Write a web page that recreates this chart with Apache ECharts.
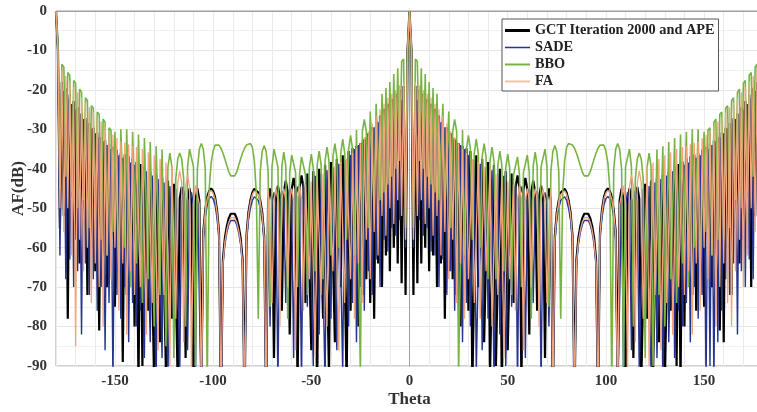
<!DOCTYPE html>
<html><head><meta charset="utf-8">
<script src="https://cdn.jsdelivr.net/npm/echarts@6/dist/echarts.min.js"></script>
<style>html,body{margin:0;padding:0;background:#fff}#c{width:757px;height:412px}</style>
</head><body><div id="c"></div>
<script>
// Theta grid: 1 degree steps. Left arrays run theta -180..0, right arrays run theta 180..0
const thetaStart = -180, thetaEnd = 180;
const xTickLabels = [-150, -100, -50, 0, 50, 100, 150];
const seriesNames = ['GCT Iteration 2000 and APE', 'SADE', 'BBO', 'FA'];

// AF (dB)
const gctLeft = [
0,-10,-55,-18,-52,-19.6,-78,-21.2,-48,-22.8,
-58,-24.4,-64,-26,-55,-27.2,-72,-28.4,-60,-29.6,
-66,-30.8,-81,-32,-62,-32.8,-70,-33.6,-58,-34.4,
-75,-35.2,-66,-36,-89,-36.4,-72,-36.8,-64,-37.4,
-80,-38.2,-95,-38.8,-90,-39.4,-39.6,-76,-40.8,-41,
-95,-41.6,-41.8,-84,-42.2,-42.4,-92,-43,-43.2,-78,
-43.8,-44,-95,-47.6,-44.6,-47.6,-88,-48,-45,-48,
-95,-48,-45,-48,-95,-56,-50.5,-47.2,-45.6,-45,
-45.6,-47.2,-50.5,-56,-100,-63,-57.5,-54.5,-52.5,-51.4,
-51,-51.4,-52.5,-54.5,-57.5,-63,-100,-57,-51,-48,
-46,-45.1,-45.1,-46,-48,-51,-57,-100,-48,-45,
-48,-88,-47.3,-44.3,-47.3,-76,-46,-43,-46,-82,
-45.3,-42.3,-45.3,-95,-44.7,-41.7,-44.7,-74,-41.2,-41,
-86,-40.6,-40.4,-95,-40,-39.8,-78,-39,-38.6,-92,
-38.3,-38,-84,-37.5,-37.2,-70,-36.6,-36.2,-95,-35.5,
-76,-34.8,-66,-34.2,-80,-33.5,-72,-32.5,-68,-31,
-74,-29.5,-78,-28,-64,-26.5,-70,-24.8,-62,-23.5,
-66,-22.3,-60,-21,-64,-20,-69,-19,-72,-10,
0];
const gctRight = [
0,-10,-55,-18,-52,-19.6,-70,-21.2,-48,-22.8,
-58,-24.4,-64,-26,-55,-27.2,-72,-28.4,-60,-29.6,
-84,-30.8,-81,-32,-62,-32.8,-70,-33.6,-58,-34.4,
-75,-35.2,-66,-36,-76,-36.4,-72,-36.8,-64,-37.4,
-80,-38.2,-95,-38.8,-90,-39.4,-39.6,-76,-40.8,-41,
-95,-41.6,-41.8,-84,-42.2,-42.4,-92,-43,-43.2,-78,
-43.8,-44,-95,-47.6,-44.6,-47.6,-88,-48,-45,-48,
-95,-48,-45,-48,-95,-56,-50.5,-47.2,-45.6,-45,
-45.6,-47.2,-50.5,-56,-100,-63,-57.5,-54.5,-52.5,-51.4,
-51,-51.4,-52.5,-54.5,-57.5,-63,-100,-57,-51,-48,
-46,-45.1,-45.1,-46,-48,-51,-57,-100,-48,-45,
-48,-88,-47.3,-44.3,-47.3,-76,-46,-43,-46,-82,
-45.3,-42.3,-45.3,-95,-44.7,-41.7,-44.7,-74,-41.2,-41,
-86,-40.6,-40.4,-95,-40,-39.8,-90,-39,-38.6,-92,
-38.3,-38,-84,-37.5,-37.2,-70,-36.6,-36.2,-95,-35.5,
-76,-34.8,-66,-34.2,-80,-33.5,-72,-32.5,-68,-31,
-66,-29.5,-78,-28,-64,-26.5,-70,-24.8,-62,-23.5,
-66,-22.3,-60,-21,-64,-20,-69,-19,-72,-10,
0];

const sadeLeft = [
0,-10,-62,-20,-20.7,-68,-22.1,-63,-23.6,-70,
-25,-66,-26.2,-82,-27.4,-64,-28.6,-72,-29.8,-68,
-31,-76,-32,-70,-33,-86,-34,-74,-35,-95,
-36,-72,-36.6,-78,-37.2,-70,-37.8,-84,-38.4,-74,
-39,-80,-39.6,-76,-40.2,-88,-40.6,-40.9,-84,-41.7,
-42,-95,-42.6,-42.9,-88,-43.5,-43.8,-95,-44.4,-44.7,
-80,-45.1,-45.2,-92,-48.3,-45.5,-48.3,-86,-49,-46,
-49,-95,-46.5,-46.8,-100,-58,-52.5,-49.2,-47.6,-47,
-47.6,-49.2,-52.5,-58,-100,-64.7,-59.2,-56.2,-54.2,-53.1,
-52.7,-53.1,-54.2,-56.2,-59.2,-64.7,-100,-59,-53,-50,
-48,-47.1,-47.1,-48,-50,-53,-59,-100,-47.5,-80,
-49,-46,-49,-95,-48.6,-45.6,-48.6,-74,-48.2,-45.2,
-48.2,-88,-47.5,-44.5,-47.5,-95,-43.6,-43.3,-75,-42.6,
-42.3,-90,-41.8,-41.6,-82,-41.2,-40.8,-95,-40.4,-40.2,
-78,-39.6,-39.4,-86,-38.7,-38.4,-92,-37.8,-37.5,-80,
-36.5,-74,-35,-84,-34,-70,-33,-76,-32,-66,
-31,-72,-29.5,-63,-28.2,-70,-27,-58,-26,-61,
-25,-55,-24,-57,-23,-53,-22.5,-22,-60,-10,
0];
const sadeRight = [
0,-10,-62,-20,-20.7,-68,-22.1,-63,-23.6,-70,
-25,-66,-26.2,-82,-27.4,-64,-28.6,-72,-29.8,-68,
-31,-76,-32,-84,-33,-95,-34,-90,-35,-95,
-36,-72,-36.6,-78,-37.2,-70,-37.8,-84,-38.4,-74,
-39,-80,-39.6,-76,-40.2,-88,-40.6,-40.9,-84,-41.7,
-42,-95,-42.6,-42.9,-88,-43.5,-43.8,-95,-44.4,-44.7,
-80,-45.1,-45.2,-92,-48.3,-45.5,-48.3,-86,-49,-46,
-49,-95,-46.5,-46.8,-100,-58,-52.5,-49.2,-47.6,-47,
-47.6,-49.2,-52.5,-58,-100,-64.7,-59.2,-56.2,-54.2,-53.1,
-52.7,-53.1,-54.2,-56.2,-59.2,-64.7,-100,-59,-53,-50,
-48,-47.1,-47.1,-48,-50,-53,-59,-100,-47.5,-80,
-49,-46,-49,-95,-48.6,-45.6,-48.6,-74,-48.2,-45.2,
-48.2,-88,-47.5,-44.5,-47.5,-95,-43.6,-43.3,-75,-42.6,
-42.3,-90,-41.8,-41.6,-82,-41.2,-40.8,-95,-40.4,-40.2,
-78,-39.6,-39.4,-86,-38.7,-38.4,-92,-37.8,-37.5,-80,
-36.5,-74,-35,-84,-34,-78,-33,-76,-32,-66,
-31,-72,-29.5,-63,-28.2,-70,-27,-62,-26,-61,
-25,-55,-24,-57,-23,-53,-22.5,-22,-60,-10,
0];

const bboLeft = [
0,-9,-45,-13.5,-14.2,-42,-15.6,-16.3,-46,-17.6,
-18.3,-50,-19.8,-20.6,-48,-22,-22.7,-55,-24,-24.6,
-52,-25.6,-26.2,-58,-27.4,-28.2,-62,-29.6,-30.2,-56,
-30.6,-30.4,-66,-30,-30,-60,-30,-30.2,-70,-30.6,
-30.9,-64,-31.3,-31.6,-74,-32.2,-32.6,-68,-33.2,-33.6,
-80,-34.3,-34.6,-72,-35.1,-35.4,-85,-39.5,-36,-39.5,
-88,-42.5,-37.5,-36,-37.5,-42.5,-80,-39.5,-35,-35,
-39.5,-90,-40,-35,-33.6,-35,-40,-95,-45,-38.5,
-35.5,-34,-33.6,-34,-34.8,-36,-37.5,-39.2,-40.8,-41.8,
-42.2,-41.8,-40.8,-39.2,-37.5,-36,-34.8,-34,-33.6,-33.6,
-34.5,-38,-46,-78,-40.6,-35.6,-34.1,-35.6,-40.6,-75,
-39.5,-35,-35,-39.5,-74,-39.3,-35.8,-39.3,-78,-41,
-36.5,-36.5,-41,-70,-41.5,-37,-37,-41.5,-72,-39.8,
-36.3,-39.8,-66,-39,-35.5,-39,-68,-38,-34.5,-38,
-62,-37,-33.6,-37,-60,-36,-32.5,-36,-58,-35,
-31.5,-35,-62,-30.2,-29.8,-92,-30.5,-27.5,-30.5,-55,
-25.5,-25,-50,-23.5,-23,-48,-21,-46,-19.5,-44,
-18,-42,-16,-40,-14.5,-38,-12.8,-12.2,-55,-10,
0];
const bboRight = [
0,-9,-45,-13.5,-14.2,-42,-15.6,-16.3,-46,-17.6,
-18.3,-50,-19.8,-20.6,-48,-22,-22.7,-55,-24,-24.6,
-58,-25.6,-26.2,-58,-27.4,-28.2,-62,-29.6,-30.2,-56,
-30.6,-30.4,-66,-30,-30,-60,-30,-30.2,-70,-30.6,
-30.9,-64,-31.3,-31.6,-74,-32.2,-32.6,-68,-33.2,-33.6,
-80,-34.3,-34.6,-72,-35.1,-35.4,-90,-39.5,-36,-39.5,
-88,-42.5,-37.5,-36,-37.5,-42.5,-80,-39.5,-35,-35,
-39.5,-90,-40,-35,-33.6,-35,-40,-95,-45,-38.5,
-35.5,-34,-33.6,-34,-34.8,-36,-37.5,-39.2,-40.8,-41.8,
-42.2,-41.8,-40.8,-39.2,-37.5,-36,-34.8,-34,-33.6,-33.6,
-34.5,-38,-46,-78,-40.6,-35.6,-34.1,-35.6,-40.6,-75,
-39.5,-35,-35,-39.5,-74,-39.3,-35.8,-39.3,-78,-41,
-36.5,-36.5,-41,-70,-41.5,-37,-37,-41.5,-72,-39.8,
-36.3,-39.8,-66,-39,-35.5,-39,-68,-38,-34.5,-38,
-68,-37,-33.6,-37,-60,-36,-32.5,-36,-58,-35,
-31.5,-35,-62,-30.2,-29.8,-92,-30.5,-27.5,-30.5,-55,
-25.5,-25,-50,-23.5,-23,-48,-21,-46,-19.5,-44,
-18,-42,-16,-40,-14.5,-38,-12.8,-12.2,-55,-10,
0];

const faLeft = [
0,-10,-50,-15,-56,-16.4,-50,-17.8,-62,-19.2,
-85,-20.6,-58,-22,-66,-23.2,-60,-24.4,-74,-25.6,
-64,-26.8,-70,-28,-80,-29.2,-62,-30.4,-68,-31.4,
-60,-32.2,-76,-33,-64,-33.4,-82,-33.8,-66,-34.2,
-72,-34.5,-34.7,-70,-35,-35.2,-82,-35.8,-36,-74,
-36.6,-37,-86,-37.5,-37.8,-72,-38.4,-38.7,-90,-39.3,
-39.6,-78,-43.5,-40.5,-43.5,-84,-44.5,-41.5,-44.5,-92,
-49,-44.2,-44.2,-49,-100,-56.5,-51,-47.7,-46.1,-45.5,
-46.1,-47.7,-51,-56.5,-100,-64,-58.5,-55.5,-53.5,-52.4,
-52,-52.4,-53.5,-55.5,-58.5,-64,-100,-57.5,-51.5,-48.5,
-46.5,-45.6,-45.6,-46.5,-48.5,-51.5,-57.5,-100,-45.2,-45,
-74,-48,-45,-48,-80,-48,-45,-48,-70,-48,
-45,-48,-86,-47.5,-44.5,-47.5,-76,-44,-43.8,-68,
-43.2,-43,-88,-42.5,-42,-72,-41.3,-40.8,-80,-40.3,
-40,-66,-39.4,-39,-86,-38.3,-38,-74,-37.5,-37.2,
-68,-36,-78,-34.8,-64,-33.5,-74,-32,-58,-30.5,
-68,-28.5,-56,-26.5,-62,-25,-52,-23.5,-57,-22,
-50,-21,-54,-20,-48,-18.8,-52,-18,-58,-10,
0];
const faRight = [
0,-10,-50,-15,-56,-16.4,-50,-17.8,-62,-19.2,
-70,-20.6,-58,-22,-66,-23.2,-80,-24.4,-74,-25.6,
-64,-26.8,-70,-28,-80,-29.2,-62,-30.4,-68,-31.4,
-60,-32.2,-76,-33,-64,-33.4,-82,-33.8,-66,-34.2,
-72,-34.5,-34.7,-70,-35,-35.2,-82,-35.8,-36,-74,
-36.6,-37,-86,-37.5,-37.8,-72,-38.4,-38.7,-90,-39.3,
-39.6,-78,-43.5,-40.5,-43.5,-84,-44.5,-41.5,-44.5,-92,
-49,-44.2,-44.2,-49,-100,-56.5,-51,-47.7,-46.1,-45.5,
-46.1,-47.7,-51,-56.5,-100,-64,-58.5,-55.5,-53.5,-52.4,
-52,-52.4,-53.5,-55.5,-58.5,-64,-100,-57.5,-51.5,-48.5,
-46.5,-45.6,-45.6,-46.5,-48.5,-51.5,-57.5,-100,-45.2,-45,
-74,-48,-45,-48,-80,-48,-45,-48,-70,-48,
-45,-48,-86,-47.5,-44.5,-47.5,-76,-44,-43.8,-68,
-43.2,-43,-88,-42.5,-42,-72,-41.3,-40.8,-80,-40.3,
-40,-66,-39.4,-39,-78,-38.3,-38,-74,-37.5,-37.2,
-68,-36,-78,-34.8,-64,-33.5,-74,-32,-58,-30.5,
-68,-28.5,-56,-26.5,-62,-25,-52,-23.5,-57,-22,
-50,-21,-54,-20,-48,-18.8,-52,-18,-58,-10,
0];

const leftSets = [gctLeft, sadeLeft, bboLeft, faLeft];
const rightSets = [gctRight, sadeRight, bboRight, faRight];
const colors = ['#000000', '#26348f', '#78b444', '#f2a47c'];
const legendColors = ['#000000', '#26348f', '#78b444', '#f6c2a5'];
const widths = [2.2, 1.4, 1.6, 1.3];
const legendBar = [3, 1.6, 2, 2];

function toPairsLeft(vals) { return vals.map((v, i) => [thetaStart + i, v]); }
function toPairsRight(vals) { return vals.map((v, i) => [thetaEnd - i, v]); }

const font = '"Liberation Serif","Times New Roman",serif';
const series = [];
seriesNames.forEach((name, k) => {
  [toPairsLeft(leftSets[k]), toPairsRight(rightSets[k])].forEach(data => {
    series.push({
      name: name, type: 'line', data: data, symbol: 'none', showSymbol: false,
      lineStyle: { color: colors[k], width: widths[k] }, itemStyle: { color: colors[k] },
      clip: true, silent: true, z: 2 + k, emphasis: { disabled: true }
    });
  });
});

const legW = 25, legH = 12;
const legendData = seriesNames.map((name, k) => {
  const h = legendBar[k], y0 = (legH - h) / 2;
  return {
    name: name,
    icon: 'path://M0,0h0.01v0.01h-0.01zM' + (legW - 0.01) + ',' + (legH - 0.01) + 'h0.01v0.01h-0.01zM0,' + y0 + 'h' + legW + 'v' + h + 'h-' + legW + 'z',
    itemStyle: { color: legendColors[k], borderWidth: 0 }
  };
});

const chart = echarts.init(document.getElementById('c'), null, { renderer: 'canvas' });
chart.setOption({
  animation: false,
  grid: { left: 56, right: -6, top: 11, bottom: 46, show: true, borderColor: '#a0a0a0', borderWidth: 1,
    backgroundColor: 'transparent', outerBoundsMode: 'none', containLabel: false },
  xAxis: {
    type: 'value', min: -180, max: 180, interval: 10,
    axisLine: { show: true, lineStyle: { color: '#a0a0a0', width: 1 } },
    axisTick: { show: false },
    axisLabel: { margin: 8, fontFamily: font, fontWeight: 'bold', fontSize: 15, color: '#333',
      formatter: v => xTickLabels.indexOf(v) >= 0 ? String(v) : '' },
    splitLine: { show: true, lineStyle: { color: '#ebebeb', width: 1 } },
    name: 'Theta', nameLocation: 'middle', nameGap: 25, nameMoveOverlap: false,
    nameTextStyle: { fontFamily: font, fontWeight: 'bold', fontSize: 17, color: '#333' }
  },
  yAxis: {
    type: 'value', min: -90, max: 0, interval: 10,
    axisLine: { show: true, lineStyle: { color: '#a0a0a0', width: 1 } },
    axisTick: { show: false },
    axisLabel: { margin: 9, fontFamily: font, fontWeight: 'bold', fontSize: 15, color: '#333' },
    splitLine: { show: true, lineStyle: { color: '#e6e6e6', width: 1 } },
    minorTick: { show: false, splitNumber: 2 },
    minorSplitLine: { show: true, lineStyle: { color: '#f1f1f1', width: 1 } },
    name: 'AF(dB)', nameLocation: 'middle', nameGap: 29, nameRotate: 90, nameMoveOverlap: false,
    nameTextStyle: { fontFamily: font, fontWeight: 'bold', fontSize: 17, color: '#333' }
  },
  legend: {
    data: legendData, orient: 'vertical', left: 502, top: 19,
    backgroundColor: '#ffffff', borderColor: '#555555', borderWidth: 1, borderRadius: 0,
    padding: [3, 4, 1, 3], itemGap: 0, itemWidth: legW, itemHeight: legH,
    itemStyle: { borderWidth: 0 },
    textStyle: { fontFamily: font, fontWeight: 'bold', fontSize: 14.3, color: '#222', lineHeight: 17 },
    selectedMode: false
  },
  series: series
});
</script></body></html>
